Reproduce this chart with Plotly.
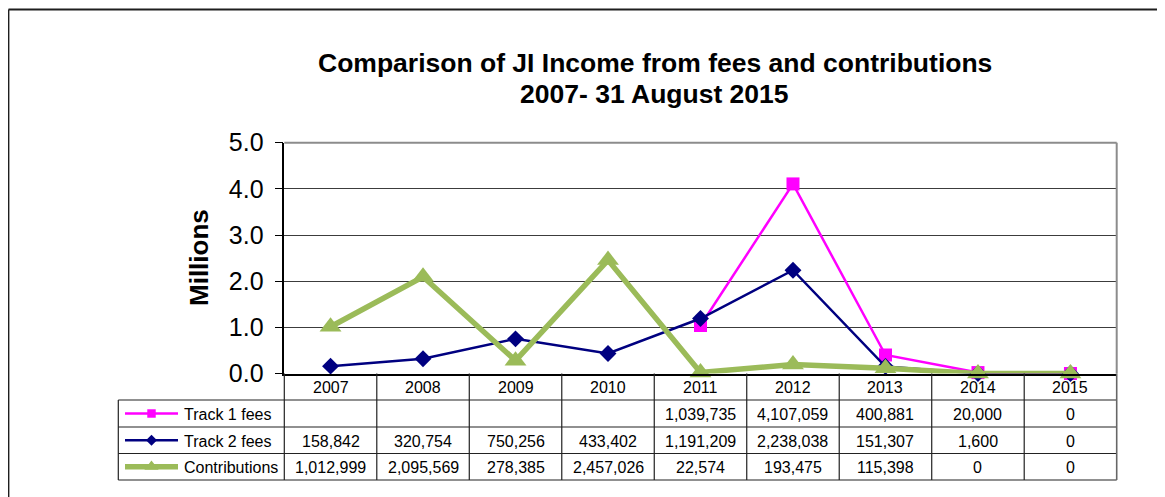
import plotly.graph_objects as go

# ---------------- data ----------------
years = ["2007", "2008", "2009", "2010", "2011", "2012", "2013", "2014", "2015"]
track1_fees = [None, None, None, None, 1039735, 4107059, 400881, 20000, 0]
track2_fees = [158842, 320754, 750256, 433402, 1191209, 2238038, 151307, 1600, 0]
contributions = [1012999, 2095569, 278385, 2457026, 22574, 193475, 115398, 0, 0]
series_names = ["Track 1 fees", "Track 2 fees", "Contributions"]
y_ticks = [0, 1, 2, 3, 4, 5]

title_line1 = "Comparison of JI Income from fees and contributions"
title_line2 = "2007- 31 August 2015"
y_title = "Millions"

# ---------------- layout geometry (page pixels) ----------------
OFF = 8                      # page body margin of the html page
W, H = 1165 - OFF, 497 - OFF  # figure size
def X(p):
    return p - OFF
def Y(p):
    return p - OFF

PL, PR, PT, PB = 284.3, 1116.7, 142.7, 373.5
FONT = "Arial, Liberation Sans, sans-serif"

colors = ["#FF00FF", "#000080", "#9BBB59"]
widths = [2.5, 2.5, 5.5]
symbols = ["square", "diamond", "triangle-up"]
msizes = [13, 13, 19]

def to_m(v):
    return [None if x is None else x / 1e6 for x in v]

def fmt(v):
    return "" if v is None else f"{v:,}"

data = [track1_fees, track2_fees, contributions]

fig = go.Figure()

for name, vals, c, w, s, ms in zip(series_names, data, colors, widths, symbols, msizes):
    fig.add_trace(go.Scatter(
        x=years, y=to_m(vals), name=name, mode="lines+markers",
        line=dict(color=c, width=w),
        marker=dict(symbol=s, size=ms, color=c, line=dict(width=0)),
        connectgaps=False, xaxis="x", yaxis="y", cliponaxis=False,
        showlegend=False, hoverinfo="skip",
    ))

# ---------------- overlay pixel axes for the data table ----------------
n = len(years)
colw = (PR - PL) / n
row_edges = [PB, 400.0, 427.0, 453.5, 480.0]
LEG_L = 118.3

shapes = []
lc = "#222222"

def line(x0, y0, x1, y1, color, width):
    shapes.append(dict(type="line", xref="x2", yref="y2", x0=X(x0), x1=X(x1), y0=Y(y0), y1=Y(y1),
                       line=dict(color=color, width=width)))

for yy in row_edges[1:]:
    line(LEG_L, yy, PR, yy, lc, 1.2)
for k in range(n + 1):
    xx = PL + k * colw
    line(xx, PB, xx, row_edges[-1], lc if k < n else "#666666", 1.2 if k < n else 1.6)
line(LEG_L, row_edges[1], LEG_L, row_edges[-1], lc, 1.2)
# plot top & right border (gray)
line(PL, PT, PR, PT, "#8c8c8c", 2)
line(PR, PT, PR, PB, "#8c8c8c", 2)
# outer chart frame
line(8.5, 9.5, 1175, 9.5, "#1e1e1e", 1.8)
line(8.5, 9.5, 8.5, 510, "#1e1e1e", 1.8)

annotations = []

def text(x, y, s, size, xanchor="center", angle=0):
    annotations.append(dict(xref="x2", yref="y2", x=X(x), y=Y(y), text=s, showarrow=False,
                            textangle=angle, font=dict(family=FONT, size=size, color="black"),
                            xanchor=xanchor, yanchor="middle"))

for k, yr in enumerate(years):
    text(PL + (k + 0.5) * colw, (row_edges[0] + row_edges[1]) / 2 + 1, yr, 16)

for r, (name, vals) in enumerate(zip(series_names, data)):
    yc = (row_edges[r + 1] + row_edges[r + 2]) / 2 + 1
    for k, v in enumerate(vals):
        text(PL + (k + 0.5) * colw, yc, fmt(v), 16)
    text(182, yc, name, 16, xanchor="left")
    fig.add_trace(go.Scatter(
        x=[X(125), X(178)], y=[Y(yc - 1), Y(yc - 1)], mode="lines",
        line=dict(color=colors[r], width=widths[r]),
        xaxis="x2", yaxis="y2", showlegend=False, hoverinfo="skip", cliponaxis=False))
    fig.add_trace(go.Scatter(
        x=[X(151.5)], y=[Y(yc - 1)], mode="markers",
        marker=dict(symbol=symbols[r], size=msizes[r] * 0.65, color=colors[r], line=dict(width=0)),
        xaxis="x2", yaxis="y2", showlegend=False, hoverinfo="skip", cliponaxis=False))

text(655, 63, f"<b>{title_line1}</b>", 26.5)
text(654, 94, f"<b>{title_line2}</b>", 26.5)
text(199, 258, f"<b>{y_title}</b>", 26, angle=-90)

fig.update_layout(
    template="none",
    width=W, height=H,
    margin=dict(l=0, r=0, t=0, b=0, pad=0, autoexpand=False),
    paper_bgcolor="white", plot_bgcolor="rgba(0,0,0,0)",
    xaxis=dict(domain=[X(PL) / W, X(PR) / W], type="category", categoryorder="array", categoryarray=years,
               range=[-0.5, n - 0.5], showticklabels=False, showgrid=False, zeroline=False,
               showline=True, linecolor="black", linewidth=1.5, ticks="", fixedrange=True, anchor="y",
               automargin=False),
    yaxis=dict(domain=[1 - Y(PB) / H, 1 - Y(PT) / H], range=[0, 5], tickvals=y_ticks,
               ticktext=[f"{t:.1f}" for t in y_ticks], ticks="outside", ticklen=8, tickcolor="black",
               tickwidth=1.2, showgrid=True, gridcolor="#3c3c3c", gridwidth=1, zeroline=False,
               showline=True, linecolor="black", linewidth=1.5, ticklabelstandoff=6,
               tickfont=dict(family=FONT, size=25, color="black"), fixedrange=True, anchor="x",
               automargin=False),
    xaxis2=dict(domain=[0, 1], range=[0, W], visible=False, fixedrange=True, anchor="y2", automargin=False),
    yaxis2=dict(domain=[0, 1], range=[H, 0], visible=False, fixedrange=True, anchor="x2", automargin=False),
    shapes=shapes,
    annotations=annotations,
)

fig.write_html("out.html")
